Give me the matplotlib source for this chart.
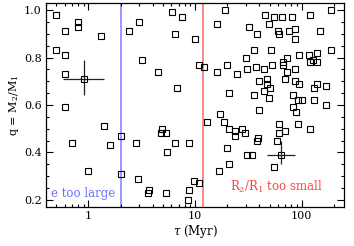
import matplotlib
matplotlib.use("Agg")
import matplotlib.pyplot as plt
from matplotlib.ticker import FixedLocator, MultipleLocator, NullFormatter, FixedFormatter
import numpy as np

# age (Myr) and mass ratio of the binaries
tau = [0.50, 0.60, 0.80, 0.80, 1.30, 0.50, 0.60, 0.60, 0.60, 1.40, 0.70, 1.60, 1.00, 2.0, 2.0,
       2.39, 2.97, 6.03, 7.48, 6.47, 9.96, 3.20, 4.48, 10.8, 6.76, 4.89, 4.78, 5.29, 2.80, 6.43,
       8.80, 5.49, 2.89, 3.68, 3.59, 5.29, 8.71, 8.58, 9.85, 10.9, 12.05,
       19.0, 44.9, 54.8, 65.4, 80.5, 118.9, 189.3, 16.0, 31.8, 48.9, 37.8, 59.5, 61.7, 76.6, 86.3,
       85.8, 150.0, 35.9, 51.1, 29.8, 72.3, 94.1, 118.1, 139.0, 189.0, 128.8, 118.5, 138.0, 19.9,
       16.0, 25.0, 31.0, 37.0, 44.1, 52.2, 67.3, 66.3, 72.3, 86.0, 40.2, 47.8, 47.1, 69.5, 86.9,
       95.1, 140.0, 129.7, 168.8, 20.9, 35.8, 44.3, 50.2, 49.2, 82.7, 93.1, 100.4, 129.4, 168.8,
       40.0, 83.0, 87.6, 17.0, 12.9, 18.8, 21.0, 23.9, 23.9, 27.8, 29.1, 38.7, 37.9, 19.9, 30.4,
       33.9, 20.9, 16.9, 61.4, 91.7, 119.4, 69.1, 61.3, 58.7, 54.8]
q = [0.98, 0.91, 0.95, 0.93, 0.89, 0.83, 0.81, 0.73, 0.59, 0.51, 0.44, 0.43, 0.32, 0.47, 0.31,
     0.91, 0.95, 0.99, 0.97, 0.90, 0.88, 0.79, 0.74, 0.77, 0.67, 0.50, 0.48, 0.48, 0.44, 0.44,
     0.44, 0.40, 0.29, 0.24, 0.23, 0.23, 0.24, 0.20, 0.28, 0.27, 0.76,
     1.00, 0.98, 0.97, 0.97, 0.97, 0.98, 1.00, 0.94, 0.93, 0.94, 0.90, 0.91, 0.90, 0.91, 0.92,
     0.88, 0.91, 0.83, 0.83, 0.80, 0.80, 0.81, 0.81, 0.82, 0.83, 0.79, 0.78, 0.78, 0.77,
     0.74, 0.73, 0.75, 0.76, 0.75, 0.77, 0.78, 0.77, 0.74, 0.75, 0.70, 0.71, 0.69, 0.71, 0.70,
     0.69, 0.69, 0.67, 0.68, 0.65, 0.64, 0.66, 0.67, 0.63, 0.64, 0.62, 0.62, 0.62, 0.60,
     0.58, 0.59, 0.57, 0.56, 0.53, 0.53, 0.50, 0.49, 0.47, 0.50, 0.48, 0.46, 0.45, 0.42, 0.39,
     0.39, 0.35, 0.32, 0.52, 0.52, 0.50, 0.49, 0.48, 0.45, 0.34]

# two points with error bars
err_tau = [0.90, 63.4]
err_q = [0.71, 0.39]
err_tau_lo = [0.58, 47.4]
err_tau_hi = [1.40, 85.8]
err_q_lo = [0.64, 0.35]
err_q_hi = [0.79, 0.45]

e_limit = 2.0
r_limit = 12.0

plt.rcParams['font.family'] = ['DejaVu Serif']
plt.rcParams['mathtext.fontset'] = 'dejavuserif'

fig = plt.figure(figsize=(3.54, 2.46), dpi=100)
ax = fig.add_axes([0.130, 0.1585, 0.842, 0.8295])

ax.axvline(e_limit, color='#7f7fff', lw=1.1, zorder=1)
ax.axvline(r_limit, color='#ff6666', lw=1.1, zorder=1)

ax.plot(tau, q, 's', mfc='none', mec='k', ms=4.4, mew=0.8, zorder=3)

et = np.array(err_tau)
eq = np.array(err_q)
xerr = [et - np.array(err_tau_lo), np.array(err_tau_hi) - et]
yerr = [eq - np.array(err_q_lo), np.array(err_q_hi) - eq]
ax.errorbar(et, eq, xerr=xerr, yerr=yerr, fmt='s', mfc='none', mec='k', ms=4.4, mew=0.8,
            ecolor='#222222', elinewidth=0.9, capsize=0, zorder=3)

ax.text(0.45, 0.225, 'e too large', color='#6f6fff', fontsize=8.5, ha='left', va='center')
ax.text(21.1, 0.254, r'R$_2$/R$_1$ too small', color='#ff4444', fontsize=8.5, ha='left', va='center')

ax.set_xscale('log')
ax.set_xlim(0.4, 250)
ax.set_ylim(0.17, 1.03)

ax.xaxis.set_major_locator(FixedLocator([1, 10, 100]))
ax.xaxis.set_major_formatter(FixedFormatter(['1', '10', '100']))
ax.xaxis.set_minor_formatter(NullFormatter())
ax.yaxis.set_minor_locator(MultipleLocator(0.05))
ax.set_yticks([0.2, 0.4, 0.6, 0.8, 1.0])
ax.set_yticklabels(['0.2', '0.4', '0.6', '0.8', '1.0'])

ax.tick_params(which='both', direction='in', top=True, right=True, labelsize=8, width=0.8, pad=3)
ax.tick_params(which='major', length=5)
ax.tick_params(which='minor', length=2.5)
for s in ax.spines.values():
    s.set_linewidth(0.9)

ax.set_xlabel(r'$\tau$ (Myr)', fontsize=8.5, labelpad=1)
ax.set_ylabel(r'q = M$_2$/M$_1$', fontsize=8, labelpad=2)

fig.savefig('out.png', dpi=100)
